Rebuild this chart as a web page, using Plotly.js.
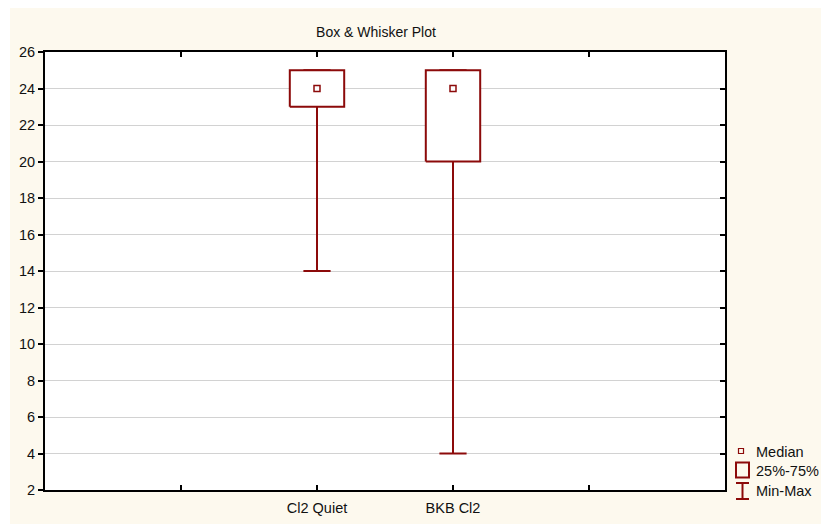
<!DOCTYPE html>
<html>
<head>
<meta charset="utf-8">
<script src="https://cdn.plot.ly/plotly-3.0.1.min.js"></script>
<style>
  html, body { margin: 0; padding: 0; background: #ffffff; }
  #chart { position: absolute; left: 10px; top: 8px; width: 811px; height: 516px; }
</style>
</head>
<body>
<div id="chart"></div>
<script>
// Summary statistics per variable
const categories = ["Cl2 Quiet", "BKB Cl2"];
const mins    = [14, 4];
const q1s     = [23, 20];
const medians = [24, 24];
const q3s     = [25, 25];
const maxs    = [25, 25];

// Axis ticks
const yTicks = [2, 4, 6, 8, 10, 12, 14, 16, 18, 20, 22, 24, 26];
const xTickVals = [1, 2, 3, 4];
const xTickText = ["", categories[0], categories[1], ""];
const legendLabels = ["Median", "25%-75%", "Min-Max"];

const RED = "#8c0a0a";
const FONT = "Liberation Sans, Arial, sans-serif";
const W = 811, H = 516;
const M = { l: 35, r: 96, t: 44, b: 34 };
const PW = W - M.l - M.r, PH = H - M.t - M.b;

// Category slots sit on a 0..5 numeric axis
const pos = categories.map((_, i) => i + 2);
const BOX_HALF = 0.2, CAP_HALF = 0.1;

// Whiskers: vertical stems plus end caps
const wx = [], wy = [];
pos.forEach((p, i) => {
  wx.push(p, p, null, p - CAP_HALF, p + CAP_HALF, null);
  wy.push(q1s[i], mins[i], null, mins[i], mins[i], null);
  wx.push(p, p, null, p - CAP_HALF, p + CAP_HALF, null);
  wy.push(q3s[i], maxs[i], null, maxs[i], maxs[i], null);
});

const traces = [
  {
    type: "scatter", mode: "lines", x: wx, y: wy,
    line: { color: RED, width: 2 }, hoverinfo: "skip", showlegend: false
  }
];

// Boxes (25%-75%), white filled
pos.forEach((p, i) => {
  traces.push({
    type: "scatter", mode: "lines",
    x: [p - BOX_HALF, p + BOX_HALF, p + BOX_HALF, p - BOX_HALF, p - BOX_HALF],
    y: [q1s[i], q1s[i], q3s[i], q3s[i], q1s[i]],
    fill: "toself", fillcolor: "#ffffff",
    line: { color: RED, width: 2 }, hoverinfo: "skip", showlegend: false
  });
});

// Median markers
traces.push({
  type: "scatter", mode: "markers", x: pos, y: medians,
  marker: { symbol: "square-open", size: 6, color: RED, line: { width: 1.5, color: RED } },
  hoverinfo: "skip", showlegend: false
});

// Empty trace so the right-hand mirror axis is drawn
traces.push({ type: "scatter", x: [], y: [], yaxis: "y2", showlegend: false, hoverinfo: "skip" });

// Pixel helpers (relative to the chart div) for the legend block
const px = v => (v - M.l) / PW;
const py = v => 1 - (v - M.t) / PH;

function pxRect(cx, cy, w, h, extra) {
  return Object.assign({
    type: "rect", xref: "paper", yref: "paper",
    xsizemode: "pixel", ysizemode: "pixel",
    xanchor: px(cx), yanchor: py(cy),
    x0: -w / 2, x1: w / 2, y0: -h / 2, y1: h / 2,
    line: { color: RED, width: 1.5 }
  }, extra || {});
}
function pxLine(cx, cy, dx0, dy0, dx1, dy1) {
  return {
    type: "line", xref: "paper", yref: "paper",
    xsizemode: "pixel", ysizemode: "pixel",
    xanchor: px(cx), yanchor: py(cy),
    x0: dx0, x1: dx1, y0: dy0, y1: dy1,
    line: { color: RED, width: 2 }
  };
}

const LX = 732.5; // legend glyph centre x (div px)
const shapes = [
  pxRect(731, 443, 5, 5, { line: { color: RED, width: 1.2 } }),
  pxRect(LX, 462, 13, 15, { line: { color: RED, width: 2 } }),
  pxLine(LX, 483, 0, 8, 0, -8),
  pxLine(LX, 483, -6.5, 8, 6.5, 8),
  pxLine(LX, 483, -6.5, -8, 6.5, -8)
];

const legendY = [444, 463, 483.5];
const annotations = legendLabels.map((t, i) => ({
  text: t, xref: "paper", yref: "paper",
  x: px(744), y: py(legendY[i]), xanchor: "left", yanchor: "middle",
  showarrow: false, font: { family: FONT, size: 14.5, color: "#111111" }
}));

const layout = {
  width: W, height: H,
  margin: M,
  paper_bgcolor: "#fdf9ee",
  plot_bgcolor: "#ffffff",
  font: { family: FONT, size: 14.5, color: "#111111" },
  title: {
    text: "Box & Whisker Plot",
    font: { family: FONT, size: 14, color: "#111111" },
    xref: "container", yref: "container",
    x: 366 / W, y: 1 - 24 / H, xanchor: "center", yanchor: "middle"
  },
  showlegend: false,
  xaxis: {
    range: [0, 5], tickvals: xTickVals, ticktext: xTickText,
    ticks: "inside", ticklen: 5, tickwidth: 2, tickcolor: "#000",
    showline: true, linewidth: 2, linecolor: "#000", mirror: "ticks",
    showgrid: false, zeroline: false, fixedrange: true,
    ticklabelstandoff: 4,
    tickfont: { family: FONT, size: 14.5, color: "#111111" }
  },
  yaxis: {
    range: [2, 26], tickvals: yTicks,
    ticks: "outside", ticklen: 5, tickwidth: 2, tickcolor: "#000",
    showline: true, linewidth: 2, linecolor: "#000",
    showgrid: true, gridcolor: "#d2d2d2", gridwidth: 1,
    zeroline: false, fixedrange: true,
    tickfont: { family: FONT, size: 14.5, color: "#111111" }
  },
  yaxis2: {
    overlaying: "y", side: "right", range: [2, 26], tickvals: yTicks,
    ticks: "inside", ticklen: 5, tickwidth: 2, tickcolor: "#000",
    showline: true, linewidth: 2, linecolor: "#000",
    showticklabels: false, showgrid: false, zeroline: false, fixedrange: true
  },
  shapes: shapes,
  annotations: annotations
};

Plotly.newPlot("chart", traces, layout, { staticPlot: true, displayModeBar: false });
</script>
</body>
</html>
